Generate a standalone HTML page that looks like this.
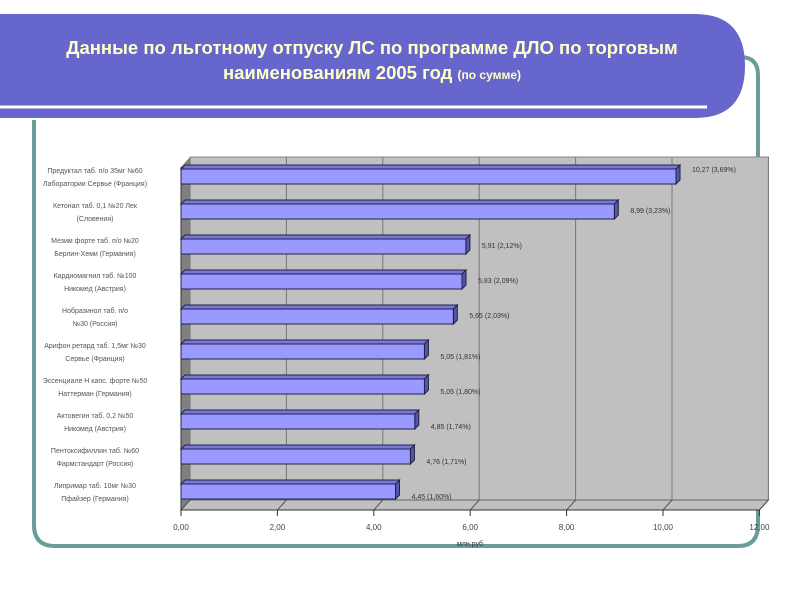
<!DOCTYPE html>
<html><head><meta charset="utf-8"><style>
body{margin:0;width:800px;height:600px;overflow:hidden;background:#fff;font-family:"Liberation Sans",sans-serif}
</style></head><body>
<svg id="s" width="800" height="600" xmlns="http://www.w3.org/2000/svg">
<path d="M34,120 V525 Q34,546 55,546 H738 Q758,546 758,525 V75 Q758,57 740,57" fill="none" stroke="#6a9c9a" stroke-width="4"/>
<path d="M0,14 H695 Q745,14 745,66 Q745,118 695,118 H0 Z" fill="#6666cc"/>
<line x1="0" y1="107" x2="707" y2="107" stroke="#fff" stroke-width="3"/>
<text x="372" y="54" text-anchor="middle" font-size="18.5" font-weight="bold" fill="#ffffcc">Данные по льготному отпуску ЛС по программе ДЛО по торговым</text>
<text x="372" y="79" text-anchor="middle" font-size="18.5" font-weight="bold" fill="#ffffcc">наименованиям 2005 год <tspan font-size="12">(по сумме)</tspan></text>
<g id="chart"></g>
</svg>
<script>
const categories=["Предуктал таб. п/о 35мг №60 Лаборатории Сервье (Франция)","Кетонал таб. 0,1 №20 Лек (Словения)","Мезим форте таб. п/о №20 Берлин-Хеми (Германия)","Кардиомагнил таб. №100 Никомед (Австрия)","Нобразинол таб. п/о №30 (Россия)","Арифон ретард таб. 1,5мг №30 Сервье (Франция)","Эссенциале Н капс. форте №50 Наттерман (Германия)","Актовегин таб. 0,2 №50 Никомед (Австрия)","Пентоксифиллин таб. №60 Фармстандарт (Россия)","Липримар таб. 10мг №30 Пфайзер (Германия)"];
const values=[10.27,8.99,5.91,5.83,5.65,5.05,5.05,4.85,4.76,4.45];
const valueLabels=["10,27 (3,69%)","8,99 (3,23%)","5,91 (2,12%)","5,83 (2,09%)","5,65 (2,03%)","5,05 (1,81%)","5,05 (1,80%)","4,85 (1,74%)","4,76 (1,71%)","4,45 (1,60%)"];
const ticks=[0,2,4,6,8,10,12];
const tickLabels=["0,00","2,00","4,00","6,00","8,00","10,00","12,00"];
const NS="http://www.w3.org/2000/svg";
const g=document.getElementById('chart');
const x0=181,unit=48.2,dx=9,dy=10,plotTop=157,plotBottom=510;
const xs=v=>x0+v*unit;
const yc=i=>176+i*35;
function el(t,a){const e=document.createElementNS(NS,t);for(const k in a)e.setAttribute(k,a[k]);g.appendChild(e);return e;}
let e;
e=el('rect',{x:x0+dx,y:plotTop,width:xs(12)-x0,height:plotBottom-dy-plotTop,fill:'#c0c0c0',stroke:'#888','stroke-width':1});


e=el('polygon',{points:`${x0},${plotTop+dy} ${x0+dx},${plotTop} ${x0+dx},${plotBottom-dy} ${x0},${plotBottom}`,fill:'#808080'});


e=el('polygon',{points:`${x0},${plotBottom} ${x0+dx},${plotBottom-dy} ${xs(12)+dx},${plotBottom-dy} ${xs(12)},${plotBottom}`,fill:'#c0c0c0',stroke:'#666'});


ticks.forEach((t,i)=>{
 e=el('line',{x1:xs(t)+dx,y1:plotTop,x2:xs(t)+dx,y2:plotBottom-dy,stroke:'#777','stroke-width':1});
 
 
 e=el('line',{x1:xs(t),y1:plotBottom,x2:xs(t)+dx,y2:plotBottom-dy,stroke:'#555'});
 
 
 e=el('line',{x1:xs(t),y1:plotBottom,x2:xs(t),y2:plotBottom+6,stroke:'#333'});
 
 
 e=el('text',{x:xs(t),y:plotBottom+20,'text-anchor':'middle','font-size':8,fill:'#444'});
 e.textContent=tickLabels[i];
 
 
});
e=el('line',{x1:x0,y1:plotTop+dy,x2:x0,y2:plotBottom+6,stroke:'#333'});


e=el('line',{x1:x0,y1:plotBottom,x2:xs(12),y2:plotBottom,stroke:'#333'});


e=el('text',{x:470,y:546,'text-anchor':'middle','font-size':7,fill:'#333'});
e.textContent='млн.руб';


values.forEach((v,i)=>{
 const y=yc(i)-7,h=15,d=4,xe=xs(v);
 e=el('polygon',{points:`${x0},${y} ${x0+d},${y-d} ${xe+d},${y-d} ${xe},${y}`,fill:'#7777dd',stroke:'#222244','stroke-width':1});
 
 
 e=el('polygon',{points:`${xe},${y} ${xe+d},${y-d} ${xe+d},${y+h-d} ${xe},${y+h}`,fill:'#5555aa',stroke:'#222244','stroke-width':1});
 
 
 e=el('rect',{x:x0,y:y,width:xe-x0,height:h,fill:'#9999ff',stroke:'#222244','stroke-width':1});
 
 
 e=el('text',{x:xe+16,y:yc(i)+(i===0?-4:(i>4?8:2)),'font-size':7,fill:'#333'});
 e.textContent=valueLabels[i];
 
 
 const c=categories[i],k=c.lastIndexOf(' ',Math.ceil(c.length/2)+6);
 [c.slice(0,k),c.slice(k+1)].forEach((ln,j)=>{
  e=el('text',{x:95,y:yc(i)-3+j*13,'text-anchor':'middle','font-size':7,fill:'#555'});
  e.textContent=ln;
  
  
 });
});
</script>
</body></html>
